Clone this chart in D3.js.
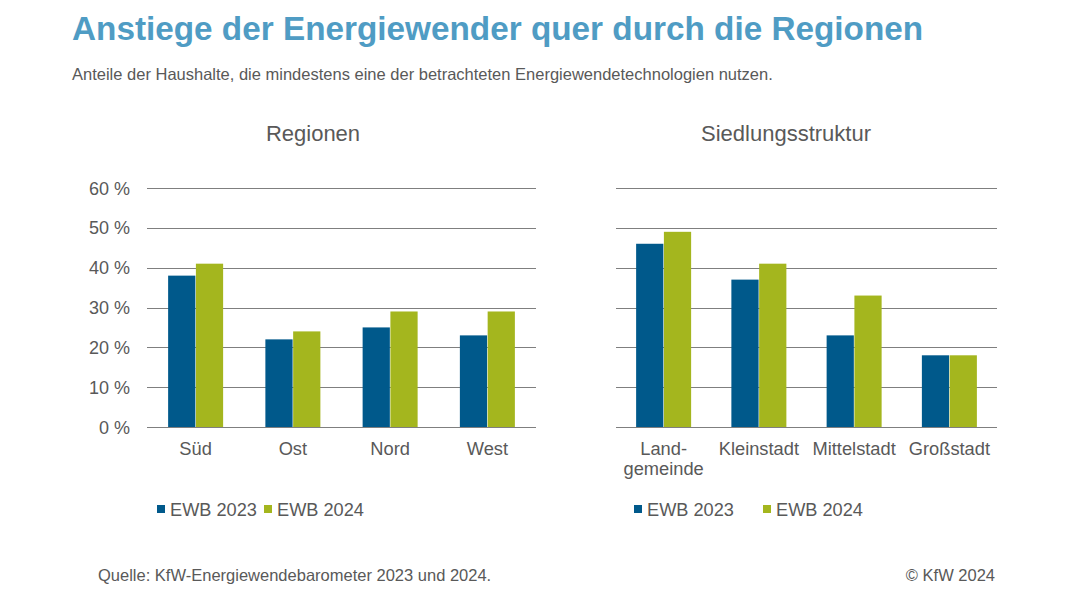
<!doctype html>
<html>
<head>
  <meta charset="utf-8">
  <title>Anstiege der Energiewender</title>
  <style>
    body { margin: 0; background: #fff; }
    svg { display: block; font-family: "Liberation Sans", Arial, sans-serif; }
  </style>
</head>
<body>
  <div id="chart"></div>
  <script src="https://cdn.jsdelivr.net/npm/d3@7"></script>
  <script>
    // data
    const series = ['EWB 2023', 'EWB 2024'];
    const yTicks = [0, 10, 20, 30, 40, 50, 60];

    const regionen = ['Süd', 'Ost', 'Nord', 'West'];
    const regionen2023 = [38, 22, 25, 23];
    const regionen2024 = [41, 24, 29, 29];

    const siedlung = ['Land-\ngemeinde', 'Kleinstadt', 'Mittelstadt', 'Großstadt'];
    const siedlung2023 = [46, 37, 23, 18];
    const siedlung2024 = [49, 41, 33, 18];

    const colors = ['#00598b', '#a4b61e'];
    const textColor = '#595959';

    const width = 1080, height = 608;
    const svg = d3.select('#chart').append('svg')
      .attr('width', width)
      .attr('height', height);

    svg.append('text')
      .attr('x', 72).attr('y', 40)
      .attr('font-size', 33.3).attr('font-weight', 'bold')
      .attr('fill', '#4f9cc4')
      .text('Anstiege der Energiewender quer durch die Regionen');

    svg.append('text')
      .attr('x', 72).attr('y', 80)
      .attr('font-size', 16.5).attr('fill', textColor)
      .text('Anteile der Haushalte, die mindestens eine der betrachteten Energiewendetechnologien nutzen.');

    const y = d3.scaleLinear().domain([0, 60]).range([427, 188]);

    const drawPanel = (opts) => {
      const { title, titleX, cats, v1, v2, x0, x1, showY, legendX, legendGap } = opts;
      const g = svg.append('g');

      g.append('text')
        .attr('x', titleX).attr('y', 141)
        .attr('text-anchor', 'middle')
        .attr('font-size', 22).attr('fill', textColor)
        .text(title);

      // gridlines
      g.selectAll('line.grid').data(yTicks).join('line')
        .attr('class', 'grid')
        .attr('x1', x0).attr('x2', x1)
        .attr('y1', d => Math.round(y(d)) + 0.5)
        .attr('y2', d => Math.round(y(d)) + 0.5)
        .attr('stroke', '#7f7f7f').attr('stroke-width', 1);

      if (showY) {
        g.selectAll('text.ytick').data(yTicks).join('text')
          .attr('class', 'ytick')
          .attr('x', 130).attr('y', d => y(d) + 6.5)
          .attr('text-anchor', 'end')
          .attr('font-size', 18).attr('fill', textColor)
          .text(d => d + ' %');
      }

      const x = d3.scaleBand().domain(cats).range([x0, x1]);
      const inner = d3.scaleBand().domain(series).range([0, 55]).paddingInner(0.02);
      const off = (x.bandwidth() - 55) / 2;

      const rows = cats.map((c, i) => ({ cat: c, vals: [v1[i], v2[i]] }));
      const grp = g.selectAll('g.cat').data(rows).join('g')
        .attr('class', 'cat')
        .attr('transform', d => `translate(${x(d.cat) + off},0)`);

      grp.selectAll('rect').data(d => d.vals.map((v, j) => ({ s: series[j], v, j }))).join('rect')
        .attr('x', d => inner(d.s))
        .attr('width', inner.bandwidth())
        .attr('y', d => y(d.v))
        .attr('height', d => y(0) - y(d.v))
        .attr('fill', d => colors[d.j]);

      // category labels
      g.selectAll('text.cat').data(cats).join('text')
        .attr('class', 'cat')
        .attr('x', d => x(d) + x.bandwidth() / 2)
        .attr('y', 455)
        .attr('text-anchor', 'middle')
        .attr('font-size', 18.3).attr('fill', textColor)
        .each(function (d) {
          d3.select(this).selectAll('tspan').data(d.split('\n')).join('tspan')
            .attr('x', x(d) + x.bandwidth() / 2)
            .attr('dy', (t, i) => i === 0 ? 0 : 20)
            .text(t => t);
        });

      // legend
      const lg = g.selectAll('g.legend').data(series).join('g')
        .attr('class', 'legend')
        .attr('transform', (d, i) => `translate(${legendX + i * legendGap},0)`);
      lg.append('rect')
        .attr('x', 0).attr('y', 505)
        .attr('width', 8).attr('height', 8)
        .attr('fill', (d, i) => colors[i]);
      lg.append('text')
        .attr('x', 13).attr('y', 515.5)
        .attr('font-size', 18.2).attr('fill', textColor)
        .text(d => d);
    };

    drawPanel({
      title: 'Regionen', titleX: 313, cats: regionen, v1: regionen2023, v2: regionen2024,
      x0: 147, x1: 536, showY: true, legendX: 157, legendGap: 107
    });
    drawPanel({
      title: 'Siedlungsstruktur', titleX: 786, cats: siedlung, v1: siedlung2023, v2: siedlung2024,
      x0: 616, x1: 997, showY: false, legendX: 634, legendGap: 129
    });

    svg.append('text')
      .attr('x', 98).attr('y', 581)
      .attr('font-size', 16.5).attr('fill', textColor)
      .text('Quelle: KfW-Energiewendebarometer 2023 und 2024.');

    svg.append('text')
      .attr('x', 995).attr('y', 581)
      .attr('text-anchor', 'end')
      .attr('font-size', 16.5).attr('fill', textColor)
      .text('© KfW 2024');
  </script>
</body>
</html>
